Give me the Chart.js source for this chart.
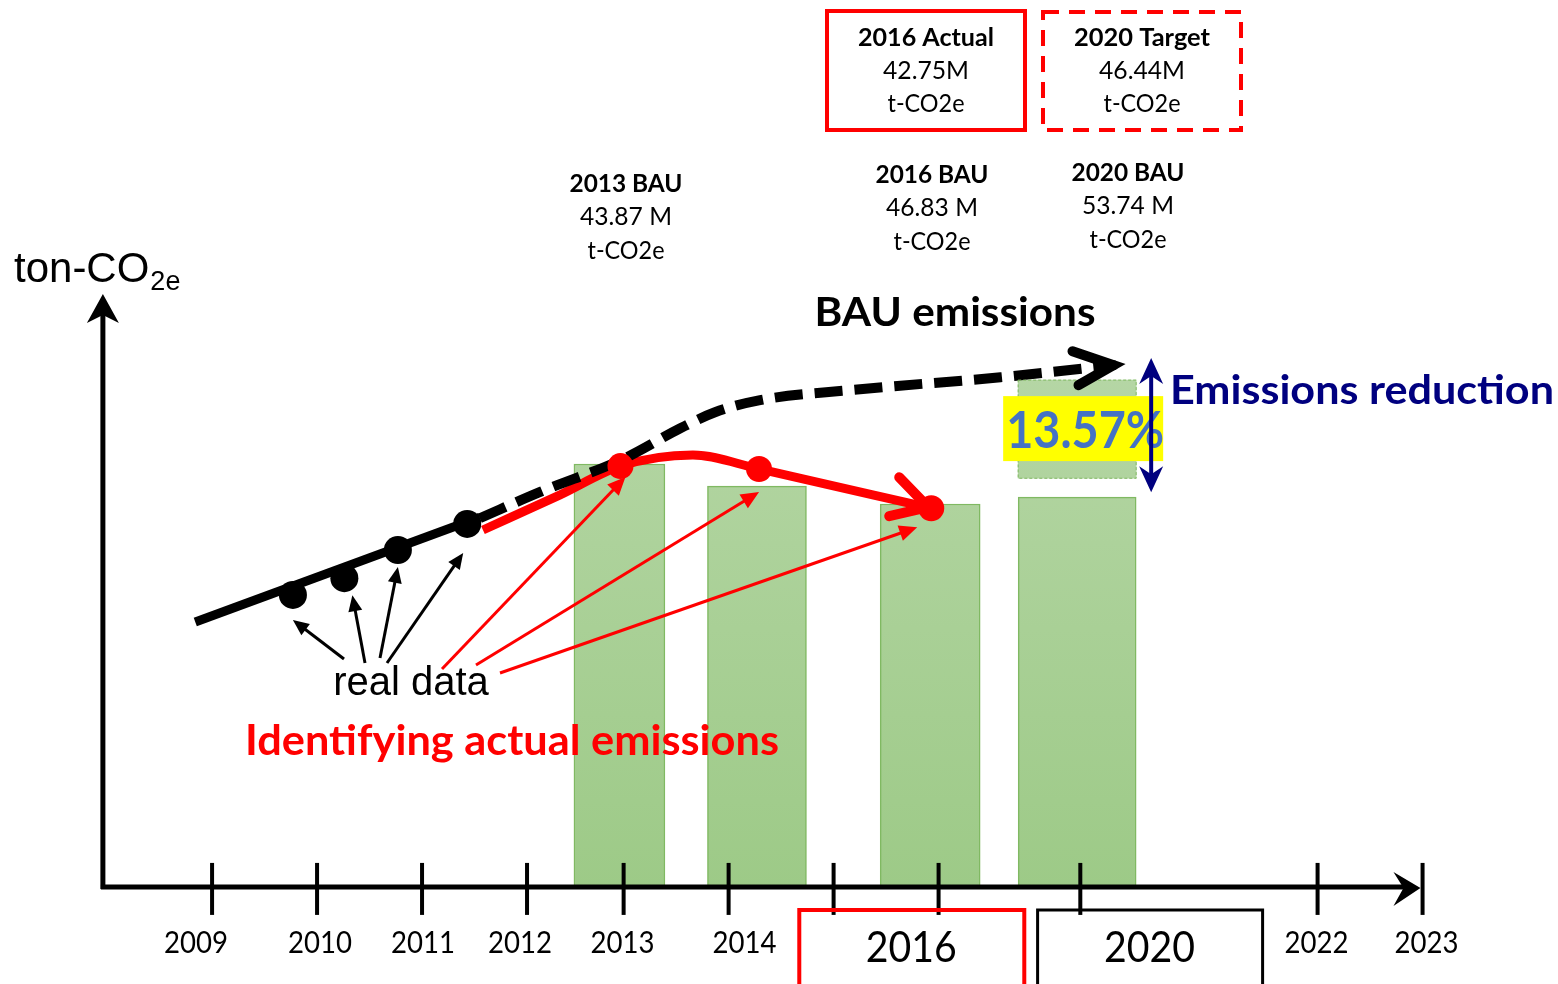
<!DOCTYPE html>
<html lang="en">
<head>
<meta charset="UTF-8" />
<title>BAU vs actual emissions</title>
<script src="https://cdn.jsdelivr.net/npm/chart.js"></script>
<style>
  html, body { margin: 0; padding: 0; background: #fff; overflow: hidden; }
  #wrap { position: relative; width: 1558px; height: 984px; }
</style>
</head>
<body>
<div id="wrap"><canvas id="co2Chart"></canvas></div>
<script>
// timeline: the drawing is not to scale after 2016, so ticks sit where they were drawn
const tickAt     = [2009, 2010, 2011, 2012, 2012.92, 2013.92, 2014.92, 2015.92, 2017.27, 2019.53, 2020.53];
const tickLabels = ['2009', '2010', '2011', '2012', '2013', '2014', '', '', '', '2022', '2023'];
const boxedYears = ['2016', '2020'];
const boxedAt    = [2015.66, 2017.93];

// bars, M t-CO2e
const barYears  = ['2013', '2014', '2016', '2020'];
const barAt     = [2012.88, 2014.19, 2015.84, 2017.24];
const barValues = [43.87, 43.25, 42.75, 42.94];
const reductionBar = [43.47, 46.22];   // 2020 gap up to BAU

// real data (black) + BAU projection
const realX  = [2009.77, 2010.26, 2010.77, 2011.43];
const realY  = [40.20, 40.67, 41.46, 42.19];
const trendX = [2008.84, 2011.55];
const trendY = [39.44, 42.38];
const bauX = [2011.55, 2012.12, 2012.93, 2013.46, 2013.79, 2014.22, 2015.08, 2016.51, 2017.51];
const bauY = [42.35, 43.08, 44.03, 44.87, 45.32, 45.66, 45.94, 46.30, 46.61];

// actual emissions (red)
const actualX = [2011.58, 2012.31, 2012.89, 2013.58, 2014.21, 2015.85];
const actualY = [42.02, 43.00, 43.81, 44.12, 43.73, 42.63];
const actualDotX = [2012.89, 2014.21, 2015.85];
const actualDotY = [43.81, 43.73, 42.63];

// headline figures
const bauNames  = ['2013 BAU', '2016 BAU', '2020 BAU'];
const bauTotals = [43.87, 46.83, 53.74];
const actual2016 = 42.75;
const target2020 = 46.44;
const reductionPct = 13.57;

const origin  = { x: 2007.96, y: 32.02 };
const axisEnd = { x: 2020.51, y: 48.63 };

const barPx = [91, 99, 100, 118];
const labelNudge = [-16, 3, 1, -7, -1, 16, 0, 0, 0, -1, 4];
const RED = '#ff0000', NAVY = '#00007f';
const CAL = 'Lato, "Open Sans", sans-serif';
const ARIAL = '"Liberation Sans", Arial, sans-serif';

const pts = (xs, ys) => xs.map((x, i) => ({ x: x, y: ys[i] }));

function barFill(ctx) {
  const chart = ctx.chart;
  if (!chart.chartArea) return '#a9d18e';
  const y = chart.scales.y;
  const g = chart.ctx.createLinearGradient(0, y.getPixelForValue(46.5), 0, y.getPixelForValue(origin.y));
  g.addColorStop(0, '#b5d6a5');
  g.addColorStop(1, '#9dca87');
  return g;
}

const datasets = [];
barAt.forEach((x, i) => {
  datasets.push({
    type: 'bar', label: barYears[i],
    data: [{ x: x, y: [origin.y, barValues[i]] }],
    backgroundColor: barFill, borderColor: '#80b962', borderWidth: 1.5,
    borderSkipped: false, barThickness: barPx[i], grouped: false, order: 5
  });
});
const reductionIndex = datasets.length;
datasets.push({
  type: 'bar', label: '2020 reduction',
  data: [{ x: barAt[3], y: reductionBar }],
  backgroundColor: barFill, borderWidth: 0,
  barThickness: barPx[3], grouped: false, order: 5
});
const actualIndex = datasets.length;
datasets.push({
  type: 'line', label: 'actual', data: pts(actualX, actualY),
  borderColor: RED, borderWidth: 9, pointRadius: 0,
  cubicInterpolationMode: 'monotone', order: 3
});
datasets.push({
  type: 'line', label: 'trend', data: pts(trendX, trendY),
  borderColor: '#000', borderWidth: 9, pointRadius: 0, order: 2
});
const bauIndex = datasets.length;
datasets.push({
  type: 'line', label: 'BAU', data: pts(bauX, bauY),
  borderColor: '#000', borderWidth: 10, borderDash: [28, 12], pointRadius: 0,
  cubicInterpolationMode: 'monotone', order: 1
});
const realIndex = datasets.length;
datasets.push({
  type: 'line', label: 'real data', data: pts(realX, realY), showLine: false,
  pointRadius: 14, pointBackgroundColor: '#000', pointBorderWidth: 0, order: 0
});
const dotIndex = datasets.length;
datasets.push({
  type: 'line', label: 'actual points', data: pts(actualDotX, actualDotY), showLine: false,
  pointRadius: 13, pointBackgroundColor: RED, pointBorderWidth: 0, order: 0
});

function fitText(c, s, x, y, font, color, w) {
  c.font = font;
  c.fillStyle = color;
  c.textAlign = 'center';
  c.textBaseline = 'middle';
  const k = w ? w / c.measureText(s).width : 1;
  c.save();
  c.translate(x, y);
  c.scale(k, 1);
  c.fillText(s, 0, 0);
  c.restore();
}

function thinArrow(c, x1, y1, x2, y2, color, lw, len, half) {
  const a = Math.atan2(y2 - y1, x2 - x1);
  c.strokeStyle = color; c.fillStyle = color; c.lineWidth = lw;
  c.beginPath(); c.moveTo(x1, y1);
  c.lineTo(x2 - Math.cos(a) * len * 0.8, y2 - Math.sin(a) * len * 0.8); c.stroke();
  c.beginPath(); c.moveTo(x2, y2);
  c.lineTo(x2 - Math.cos(a) * len - Math.sin(a) * half, y2 - Math.sin(a) * len + Math.cos(a) * half);
  c.lineTo(x2 - Math.cos(a) * len + Math.sin(a) * half, y2 - Math.sin(a) * len - Math.cos(a) * half);
  c.closePath(); c.fill();
}

const sketch = {
  id: 'sketch',
  afterDatasetsDraw(chart) {
    const c = chart.ctx, X = chart.scales.x, Y = chart.scales.y;
    const px = v => X.getPixelForValue(v), py = v => Y.getPixelForValue(v);
    const ox = px(origin.x), oy = py(origin.y);
    const ex = px(axisEnd.x), ey = py(axisEnd.y);
    c.save();
    c.lineCap = 'butt';

    // axes with arrows
    c.strokeStyle = '#000'; c.fillStyle = '#000'; c.lineWidth = 5;
    c.beginPath(); c.moveTo(ox, oy + 2); c.lineTo(ox, ey + 18); c.stroke();
    c.beginPath(); c.moveTo(ox - 2, oy); c.lineTo(ex - 12, oy); c.stroke();
    c.beginPath(); c.moveTo(ox, ey); c.lineTo(ox - 16, ey + 29); c.lineTo(ox, ey + 21); c.lineTo(ox + 16, ey + 29); c.closePath(); c.fill();
    c.beginPath(); c.moveTo(ex, oy + 1); c.lineTo(ex - 27, oy - 15); c.lineTo(ex - 17, oy + 1); c.lineTo(ex - 27, oy + 19); c.closePath(); c.fill();

    // ticks + labels
    c.lineWidth = 4;
    tickAt.forEach((t, i) => {
      const x = px(t);
      c.beginPath(); c.moveTo(x, oy - 24); c.lineTo(x, oy + 28); c.stroke();
      if (tickLabels[i]) fitText(c, tickLabels[i], x + labelNudge[i], 943, '30px ' + CAL, '#000', 64);
    });
    boxedYears.forEach((s, i) => {
      const x = px(boxedAt[i]);
      c.strokeStyle = i === 0 ? RED : '#000';
      c.lineWidth = i === 0 ? 4 : 3;
      c.strokeRect(x - 112, 910, 225, 80);
      fitText(c, s, x, 948, '42px ' + CAL, '#000', 91);
    });

    // dashed outline of the 2020 reduction bar
    const rb = chart.getDatasetMeta(reductionIndex).data[0];
    const rTop = Math.min(rb.y, rb.base), rBot = Math.max(rb.y, rb.base);
    c.strokeStyle = '#80b962'; c.lineWidth = 1; c.setLineDash([3, 2]);
    c.strokeRect(rb.x - rb.width / 2, rTop, rb.width, rBot - rTop);
    c.setLineDash([]);

    // yellow reduction label and double arrow
    c.fillStyle = '#ffff00';
    c.fillRect(rb.x - 74, rTop + 16, 160, 65);
    fitText(c, reductionPct.toFixed(2) + '%', rb.x + 8, rTop + 51, 'bold 52px ' + CAL, '#4472c4', 158);
    const lowTop = chart.getDatasetMeta(3).data[0].y;
    const ax = rb.x + rb.width / 2 + 15, aT = rTop - 22, aB = lowTop - 5;
    c.strokeStyle = NAVY; c.fillStyle = NAVY; c.lineWidth = 4;
    c.beginPath(); c.moveTo(ax, aT + 10); c.lineTo(ax, aB - 10); c.stroke();
    c.beginPath(); c.moveTo(ax, aT); c.lineTo(ax - 12, aT + 26); c.lineTo(ax, aT + 18); c.lineTo(ax + 12, aT + 26); c.closePath(); c.fill();
    c.beginPath(); c.moveTo(ax, aB); c.lineTo(ax - 12, aB - 26); c.lineTo(ax, aB - 18); c.lineTo(ax + 12, aB - 26); c.closePath(); c.fill();
    fitText(c, 'Emissions reduction', 1362, 391, 'bold 40px ' + CAL, NAVY, 384);

    // arrowheads on the two big lines
    c.lineCap = 'round'; c.lineWidth = 10;
    const bl = chart.getDatasetMeta(bauIndex).data;
    const be = bl[bl.length - 1];
    const tx = be.x + 8, ty = be.y - 1;
    c.strokeStyle = '#000';
    c.beginPath(); c.moveTo(be.x - 4, be.y); c.lineTo(tx, ty); c.stroke();
    c.beginPath(); c.moveTo(tx - 41, ty - 14); c.lineTo(tx, ty); c.lineTo(tx - 35, ty + 20); c.stroke();
    const al = chart.getDatasetMeta(actualIndex).data;
    const ae = al[al.length - 1];
    c.strokeStyle = RED;
    c.beginPath(); c.moveTo(ae.x - 32, ae.y - 31); c.lineTo(ae.x - 3, ae.y - 1); c.lineTo(ae.x - 42, ae.y + 8); c.stroke();
    c.lineCap = 'butt';

    // "real data" pointers
    const lx = 411, ly = 683;
    const blackTails = [[-67, -24], [-46, -20], [-31, -25], [-24, -20]];
    chart.getDatasetMeta(realIndex).data.forEach((p, i) => {
      thinArrow(c, lx + blackTails[i][0], ly + blackTails[i][1], p.x + [0, 8, 0, -4][i], p.y + [25, 17, 17, 29][i], '#000', 3, 16, 7);
    });
    const redTails = [[31, -14], [65, -18], [89, -10]];
    chart.getDatasetMeta(dotIndex).data.forEach((p, i) => {
      thinArrow(c, lx + redTails[i][0], ly + redTails[i][1], p.x + [5, 0, -14][i], p.y + [11, 23, 19][i], RED, 3, 18, 8);
    });
    c.font = '40px ' + ARIAL; c.fillStyle = '#000'; c.textAlign = 'center'; c.textBaseline = 'alphabetic';
    c.fillText('real data', lx, 695);
    fitText(c, 'Identifying actual emissions', 512, 741, 'bold 42px ' + CAL, RED, 534);
    fitText(c, 'BAU emissions', 955, 313, 'bold 40px ' + CAL, '#000', 281);

    // y axis title
    c.textAlign = 'left'; c.textBaseline = 'alphabetic'; c.fillStyle = '#000';
    c.font = '42px ' + ARIAL; c.fillText('ton-CO', 14, 282);
    const w = c.measureText('ton-CO').width;
    c.font = '27px ' + ARIAL; c.fillText('2e', 14 + w + 1, 290);

    // BAU figures
    const bauCx = [626, 932, 1128], bauTop = [184, 175, 173];
    bauNames.forEach((n, i) => {
      fitText(c, n, bauCx[i], bauTop[i], 'bold 25px ' + CAL, '#000', 113);
      fitText(c, bauTotals[i].toFixed(2) + ' M', bauCx[i], bauTop[i] + 33, '25px ' + CAL, '#000', 92);
      fitText(c, 't-CO2e', bauCx[i], bauTop[i] + 67, '25px ' + CAL, '#000', 77);
    });

    // actual / target boxes
    c.strokeStyle = RED; c.lineWidth = 4;
    c.strokeRect(827, 11, 198, 119);
    c.setLineDash([16, 10]);
    c.strokeRect(1043, 12, 198, 118);
    c.setLineDash([]);
    [['2016 Actual', actual2016, 926], ['2020 Target', target2020, 1142]].forEach(b => {
      fitText(c, b[0], b[2], 38, 'bold 25px ' + CAL, '#000', 136);
      fitText(c, b[1].toFixed(2) + 'M', b[2], 71, '25px ' + CAL, '#000', 86);
      fitText(c, 't-CO2e', b[2], 104, '25px ' + CAL, '#000', 77);
    });
    c.restore();
  }
};

new Chart(document.getElementById('co2Chart'), {
  type: 'bar',
  data: { datasets: datasets },
  options: {
    responsive: true,
    maintainAspectRatio: false,
    animation: false,
    events: [],
    layout: { padding: 0, autoPadding: false },
    plugins: { legend: { display: false }, tooltip: { enabled: false } },
    scales: {
      x: { type: 'linear', min: 2006.98, max: 2021.82, offset: false, display: false },
      y: { type: 'linear', min: 29.30, max: 56.87, beginAtZero: false, display: false }
    }
  },
  plugins: [sketch]
});
</script>
</body>
</html>
